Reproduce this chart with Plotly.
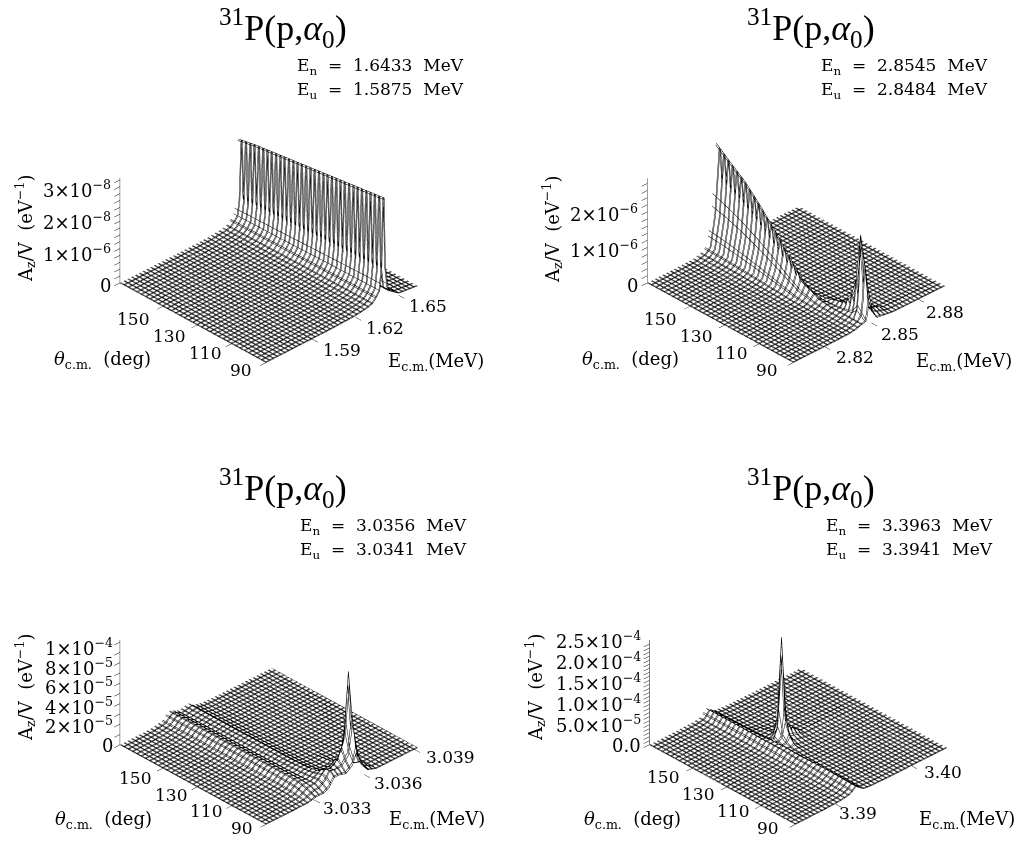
import numpy as np
import plotly.graph_objects as go

# --- data ----------------------------------------------------------------------
E_1 = [1.558, 1.600, 1.618, 1.628, 1.632, 1.6345, 1.6368, 1.6381, 1.6394, 1.6399, 1.6407, 1.6425, 1.650, 1.663]
T_1 = [90, 105, 120, 135, 150, 165, 175]
Z_1 = [  # 1e-8 / eV
    [0, .012, .036, .09, .15, .27, .42, .95, 3.05, 3.05, 1.05, .30, .06, 0],
    [0, .012, .035, .087, .145, .26, .41, .92, 2.95, 2.95, 1.00, .29, .06, 0],
    [0, .011, .034, .084, .14, .25, .40, .88, 2.85, 2.85, .98, .28, .056, 0],
    [0, .011, .032, .08, .135, .24, .38, .85, 2.75, 2.75, .94, .27, .054, 0],
    [0, .010, .030, .076, .128, .23, .36, .82, 2.65, 2.65, .89, .25, .05, 0],
    [0, .010, .029, .073, .122, .22, .35, .79, 2.55, 2.55, .86, .24, .05, 0],
    [0, .009, .028, .07, .118, .21, .34, .76, 2.45, 2.45, .82, .23, .047, 0],
]
E_2 = [2.800, 2.819, 2.829, 2.835, 2.838, 2.841, 2.8437, 2.8442, 2.8464, 2.8475, 2.8485, 2.8509, 2.8533, 2.863, 2.897]
T_2 = [90, 95, 97.5, 100, 104, 107, 115, 124, 132, 141, 150, 158, 166, 175]
Z_2 = [  # 1e-6 / eV
    [0, 0, .005, .01, .02, .05, .1, .1, .12, .3, .8, .3, .08, .01, 0],
    [0, 0, .005, .01, .02, .05, .1, .1, .35, 1.0, 2.4, .8, .25, .03, 0],
    [0, 0, .005, .01, .02, .05, .1, .1, .2, .5, 1.1, .4, .12, .01, 0],
    [0, 0, .005, .01, .02, .05, .1, .1, .15, .3, .6, .25, .08, .01, 0],
    [0, 0, .005, .01, .02, .05, .1, .1, .12, .18, .3, .13, .04, .01, 0],
    [0, 0, .005, .01, .02, .05, .1, .1, .1, .13, .2, .09, .03, 0, 0],
    [0, 0, .005, .01, .02, .07, .15, .15, .08, .05, .07, .03, .01, 0, 0],
    [0, 0, .005, .01, .03, .15, .4, .4, .16, .05, .03, .02, .01, 0, 0],
    [0, .005, .01, .03, .07, .32, .85, .85, .32, .08, .03, .02, .01, 0, 0],
    [0, .01, .01, .04, .11, .53, 1.4, 1.4, .53, .11, .04, .02, .01, .005, 0],
    [0, .01, .015, .06, .15, .72, 1.9, 1.9, .72, .15, .06, .03, .02, .01, 0],
    [0, .01, .02, .07, .18, .87, 2.3, 2.3, .87, .18, .07, .04, .02, .01, 0],
    [0, .01, .02, .08, .21, 1.0, 2.6, 2.6, 1.0, .21, .08, .04, .03, .01, 0],
    [0, .01, .02, .09, .23, 1.1, 2.95, 2.95, 1.1, .23, .09, .05, .03, .01, 0],
]
E_3 = [3.0301, 3.0319, 3.0326, 3.0329, 3.0331, 3.0336, 3.0339, 3.0342, 3.0345, 3.0349, 3.0353, 3.03556, 3.0358, 3.0362, 3.0367, 3.0392]
T_3 = [90, 92.5, 95, 97.5, 100, 105, 115, 130, 150, 175]
Z_3 = [  # 1e-5 / eV
    [0, 0, .02, .1, .2, .2, .5, 1.2, 1.2, 1.0, 1.5, 2.8, 1.2, .3, .02, 0],
    [0, .02, .05, .2, .4, .5, .9, 1.6, 1.5, 1.5, 2.2, 5.0, 2.2, .5, .03, 0],
    [0, .03, .1, .35, .6, .7, 1.1, 1.6, 1.4, 2.0, 3.5, 10.0, 3.0, .7, .04, 0],
    [0, .04, .15, .5, .7, .7, 1.0, 1.3, 1.0, 1.0, 1.5, 3.5, 1.2, .3, .03, 0],
    [0, .05, .2, .6, .8, .65, .9, 1.0, .6, .45, .6, 1.2, .5, .12, .02, 0],
    [0, .05, .25, .65, .85, .6, .8, .8, .4, .2, .15, .3, .12, .05, .01, 0],
    [0, .05, .25, .7, .85, .55, .7, .7, .3, .12, .08, .06, .05, .03, .01, 0],
    [0, .05, .25, .7, .85, .5, .65, .68, .27, .1, .06, .04, .03, .02, .01, 0],
    [0, .05, .25, .7, .85, .5, .6, .65, .25, .1, .05, .03, .02, .02, .01, 0],
    [0, .05, .25, .7, .85, .45, .55, .65, .25, .08, .04, .03, .02, .02, .01, 0],
]
E_4 = [3.3847, 3.3887, 3.3907, 3.3915, 3.3921, 3.3927, 3.3932, 3.3937, 3.3942, 3.3947, 3.3967, 3.4047]
T_4 = [90, 110, 125, 132.5, 135, 137.5, 140, 142.5, 145, 155, 165, 175]
Z_4 = [  # 1e-4 / eV
    [0, .005, .02, .04, .08, .18, .1, .03, .015, .01, 0, 0],
    [0, .005, .02, .05, .12, .2, .1, .03, .02, .015, .005, 0],
    [0, .005, .02, .05, .15, .2, .08, .04, .03, .02, .005, 0],
    [0, .005, .02, .05, .18, .19, .09, .06, .08, .04, .01, 0],
    [0, .005, .02, .05, .18, .18, .1, .1, .22, .08, .01, 0],
    [0, .005, .02, .05, .18, .18, .12, .18, .6, .14, .02, 0],
    [0, .005, .02, .05, .18, .18, .15, .4, 2.6, .4, .03, 0],
    [0, .005, .02, .05, .18, .16, .1, .15, .55, .12, .02, 0],
    [0, .005, .02, .06, .19, .15, .08, .08, .1, .06, .01, 0],
    [0, .005, .02, .06, .2, .14, .06, .03, .02, .015, .005, 0],
    [0, .005, .02, .06, .2, .13, .05, .03, .02, .015, .005, 0],
    [0, .005, .02, .06, .2, .12, .05, .03, .02, .015, .005, 0],
]
UNIT = [1e-8, 1e-6, 1e-5, 1e-4]

THETA_TICKS = [90, 110, 130, 150]
E_TICKS = [[1.59, 1.62, 1.65], [2.82, 2.85, 2.88], [3.033, 3.036, 3.039], [3.39, 3.40]]
E_TICK_TEXT = [["1.59", "1.62", "1.65"], ["2.82", "2.85", "2.88"], ["3.033", "3.036", "3.039"], ["3.39", "3.40"]]
Z_TOP = [3.05e-8, 2.95e-6, 1.02e-4, 2.6e-4]
Z_TICKS = [
    [0, 1e-8, 2e-8, 3e-8],
    [0, 1e-6, 2e-6],
    [0, 2e-5, 4e-5, 6e-5, 8e-5, 1e-4],
    [0, 5e-5, 1e-4, 1.5e-4, 2e-4, 2.5e-4],
]
Z_MINOR = [
    [.2e-8, .4e-8, .6e-8, .8e-8, 1.2e-8, 1.4e-8, 1.6e-8, 1.8e-8, 2.2e-8, 2.4e-8, 2.6e-8, 2.8e-8],
    [.2e-6, .4e-6, .6e-6, .8e-6, 1.2e-6, 1.4e-6, 1.6e-6, 1.8e-6, 2.2e-6, 2.4e-6, 2.6e-6, 2.8e-6],
    [1e-5, 3e-5, 5e-5, 7e-5, 9e-5],
    [1e-5, 2e-5, 3e-5, 4e-5, 6e-5, 7e-5, 8e-5, 9e-5, 1.1e-4, 1.2e-4, 1.3e-4, 1.4e-4, 1.6e-4, 1.7e-4, 1.8e-4, 1.9e-4, 2.1e-4, 2.2e-4, 2.3e-4, 2.4e-4],
]
Z_TICK_TEXT = [
    ["0", "1×10<sup>−6</sup>", "2×10<sup>−8</sup>", "3×10<sup>−8</sup>"],
    ["0", "1×10<sup>−6</sup>", "2×10<sup>−6</sup>"],
    ["0", "2×10<sup>−5</sup>", "4×10<sup>−5</sup>", "6×10<sup>−5</sup>", "8×10<sup>−5</sup>", "1×10<sup>−4</sup>"],
    ["0.0", "5.0×10<sup>−5</sup>", "1.0×10<sup>−4</sup>", "1.5×10<sup>−4</sup>", "2.0×10<sup>−4</sup>", "2.5×10<sup>−4</sup>"],
]
E_N = ["1.6433", "2.8545", "3.0356", "3.3963"]
E_U = ["1.5875", "2.8484", "3.0341", "3.3941"]
E_RANGE = [(1.558, 1.663), (2.800, 2.897), (3.0301, 3.0392), (3.3847, 3.4047)]
T_RANGE = (90, 175)

# --- layout constants ----------------------------------------------------------
W, H = 1019, 841
SERIF = "DejaVu Serif"
DOMAINS = [((0, .5), (.5, 1)), ((.5, 1), (.5, 1)), ((0, .5), (0, .5)), ((.5, 1), (0, .5))]
PX_SHIFT = [(13.5, 21), (30.5, 21), (13.5, 61), (32.5, 61)]
EYE = np.array([-1.0, -1.038, 0.89]) * 1.03
K = 206.0

d = -EYE / np.linalg.norm(EYE)
r = np.cross(d, [0, 0, 1]); r /= np.linalg.norm(r)
u = np.cross(r, d)

TITLE_X = [283, 811, 283, 811]
TITLE_Y = [28, 28, 488, 488]
SUB_X = [466, 990, 469, 995]
SUB_Y = [66, 66, 526, 526]
ZT_X = [25, 552, 25, 535]
ZT_Y = [229, 230, 688, 688]
TH_X = [102, 630, 103, 632]
TH_Y = [360, 360, 820, 820]
EL_X = [436, 964, 437, 967]
EL_Y = [362, 362, 820, 820]
# tick-label placement: the pixel positions of the first and last label on each axis
E_LABEL_FROM = [(342, 350), (855, 357), (347, 808), (858, 813)]
E_LABEL_TO = [(428, 306), (945, 312), (450, 757), (943, 772)]
T_LABEL_90 = [(241, 370), (767, 370), (242, 828), (768, 828)]
T_LABEL_150 = [(133, 319), (660, 319), (135, 778), (663, 777)]
Z_LABEL_RIGHT = [113, 640, 115, 643]
Z_LABEL_BASE = [285, 285, 745, 745]
Z_LABEL_PX = [32 / 1e-8, 36 / 1e-6, 98 / 1e-4, 105 / 2.5e-4]

fig = go.Figure()
annos = []
SERIES = [(E_1, T_1, Z_1), (E_2, T_2, Z_2), (E_3, T_3, Z_3), (E_4, T_4, Z_4)]
NB = "\u00a0"


def A(x, y, text, size, family=SERIF, angle=0, xanchor="center"):
    annos.append(dict(x=x / W, y=1 - y / H, xref="paper", yref="paper", text=text, showarrow=False,
                      font=dict(family=family, size=size, color="black"), textangle=angle,
                      xanchor=xanchor, yanchor="middle"))


for i, (E, T, Z) in enumerate(SERIES):
    name = "scene" if i == 0 else f"scene{i + 1}"
    emin, emax = E_RANGE[i]
    estep = (emax - emin) / 40
    for k, off in enumerate((0.0, 0.2)):
        fig.add_trace(go.Surface(
            x=E, y=T, z=np.array(Z) * UNIT[i], scene=name, showscale=False, hoverinfo="skip",
            colorscale=[[0, "white"], [1, "white"]], hidesurface=k > 0,
            lighting=dict(ambient=1, diffuse=0, specular=0, fresnel=0, roughness=1),
            contours=dict(
                x=dict(show=True, start=emin + off * estep, end=emax + 1e-9, size=estep, color="black", width=1, highlight=False),
                y=dict(show=True, start=T_RANGE[0] + off * 2.5, end=T_RANGE[1] + 1e-9, size=2.5, color="black", width=1, highlight=False),
                z=dict(show=False, highlight=False),
            ),
        ))
    sx, sy = PX_SHIFT[i]
    c = -sx / K * r + sy / K * u
    e = EYE + c
    base = dict(showbackground=False, showgrid=False, zeroline=False, showspikes=False, title=dict(text=""),
                ticks="outside", tickcolor="black", ticklen=8, tickwidth=1, showticklabels=False, showline=False)
    fig.layout[name] = dict(
        domain=dict(x=DOMAINS[i][0], y=DOMAINS[i][1]),
        aspectmode="manual", aspectratio=dict(x=1.0, y=1, z=0.585),
        camera=dict(eye=dict(x=e[0], y=e[1], z=e[2]), center=dict(x=c[0], y=c[1], z=c[2]),
                    up=dict(x=0, y=0, z=1), projection=dict(type="orthographic")),
        xaxis=dict(base, range=[emin, emax], tickvals=E_TICKS[i]),
        yaxis=dict(base, range=list(T_RANGE), tickvals=THETA_TICKS),
        zaxis=dict(base, range=[0, Z_TOP[i]], tickvals=list(Z_TICKS[i]) + list(Z_MINOR[i]), showline=True,
                   linecolor="black", linewidth=1, ticklen=4),
    )
    A(TITLE_X[i], TITLE_Y[i], "<sup>31</sup>P(p,<i>α</i><sub>0</sub>)", 36, family="Liberation Serif")
    A(SUB_X[i], SUB_Y[i], f"E<sub>n</sub>{NB}{NB}={NB}{NB}{E_N[i]}{NB}{NB}MeV", 17, xanchor="right")
    A(SUB_X[i], SUB_Y[i] + 24, f"E<sub>u</sub>{NB}{NB}={NB}{NB}{E_U[i]}{NB}{NB}MeV", 17, xanchor="right")
    A(ZT_X[i], ZT_Y[i], f"A<sub>z</sub>/V{NB}{NB}(eV<sup>−1</sup>)", 18, angle=-90)
    A(TH_X[i], TH_Y[i], f"<i>θ</i><sub>c.m.</sub>{NB}{NB}(deg)", 18)
    A(EL_X[i], EL_Y[i], "E<sub>c.m.</sub>(MeV)", 18)
    # tick labels, placed from the tick values
    e0, e1 = E_TICKS[i][0], E_TICKS[i][-1]
    for v, txt in zip(E_TICKS[i], E_TICK_TEXT[i]):
        f = (v - e0) / (e1 - e0)
        A(E_LABEL_FROM[i][0] + f * (E_LABEL_TO[i][0] - E_LABEL_FROM[i][0]),
          E_LABEL_FROM[i][1] + f * (E_LABEL_TO[i][1] - E_LABEL_FROM[i][1]), txt, 17)
    for v in THETA_TICKS:
        f = (v - 90) / 60
        A(T_LABEL_90[i][0] + f * (T_LABEL_150[i][0] - T_LABEL_90[i][0]),
          T_LABEL_90[i][1] + f * (T_LABEL_150[i][1] - T_LABEL_90[i][1]), str(v), 17)
    for v, txt in zip(Z_TICKS[i], Z_TICK_TEXT[i]):
        A(Z_LABEL_RIGHT[i], Z_LABEL_BASE[i] - v * Z_LABEL_PX[i], txt, 18, xanchor="right")

fig.update_layout(width=W, height=H, margin=dict(l=0, r=0, t=0, b=0), paper_bgcolor="white",
                  showlegend=False, annotations=annos)
fig.write_html("out.html", config={"displayModeBar": False}, post_script="document.body.style.margin='0';")
